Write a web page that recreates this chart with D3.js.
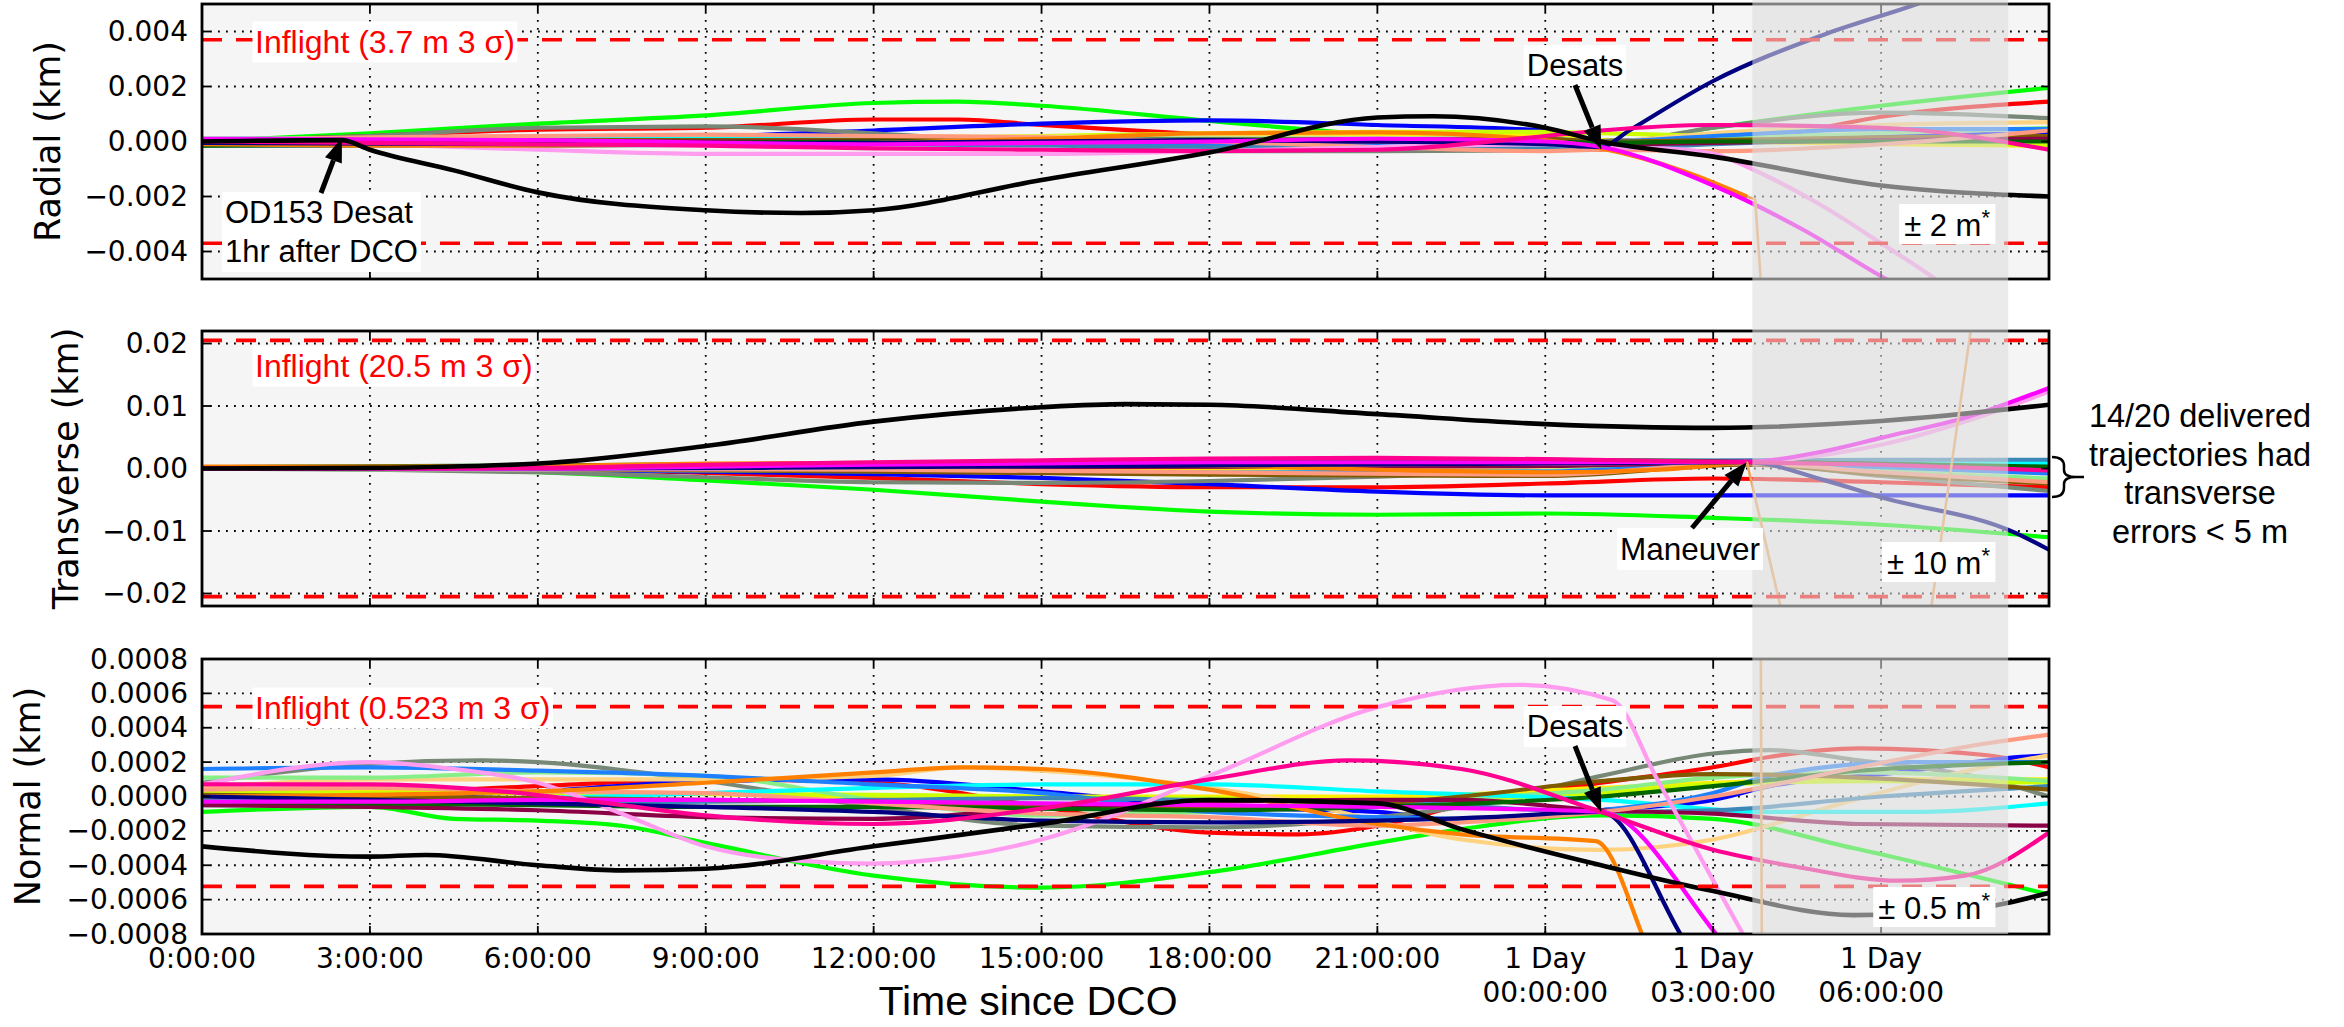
<!DOCTYPE html>
<html>
<head>
<meta charset="utf-8">
<script src="https://cdn.jsdelivr.net/npm/d3@7"></script>
<style>
  body { margin: 0; background: #fff; }
  svg { display: block; }
</style>
</head>
<body>
<script>
// values are metres (plotted as km on the axes) against hours since DCO

var seriesNames = ['lime', 'red', 'blue', 'graygreen', 'yellow', 'greenyellow', 'lightorange', 'lightgreen',
  'cyan', 'dodger', 'steelblue', 'brown', 'maroon', 'darkgreen', 'salmon', 'violet', 'orange', 'navy',
  'magenta', 'deeppink', 'black', 'sandy'];

var seriesColors = ['#00ff00', '#ff0000', '#0000ff', '#778877', '#ffee00', '#ccff00', '#ffd27f', '#88ee88',
  '#00ffff', '#1e80ff', '#3b88b8', '#7f5a00', '#8b0045', '#006400', '#ff9a80', '#ff9cf0', '#ff8000', '#000080',
  '#ff00ff', '#ff0090', '#000000', '#f0a860'];

var radialLines = [
  [[0,0],[3,0.3],[6,0.65],[9,0.95],[12,1.4],[13.5,1.45],[15,1.3],[18,0.75],[21,0.25],[24,0.05],[25,-0.1],[27,0.5],[30,1.3],[33,1.95]],
  [[0,0],[3,0.2],[6,0.43],[9,0.5],[12,0.8],[13.5,0.8],[15,0.6],[18,0.25],[21,0.05],[24,-0.05],[25,-0.3],[27,0.1],[28.5,0.35],[30,0.9],[33,1.45]],
  [[0,0],[3,0.05],[6,0.1],[9,0.18],[12,0.4],[15,0.65],[18,0.77],[21,0.6],[24,0.4],[25,0.05],[27,0.1],[30,0.2],[33,0.3]],
  [[0,0],[3,0.2],[6,0.5],[9,0.55],[12,0.3],[15,-0.1],[18,-0.35],[21,-0.35],[23,-0.33],[25,-0.15],[27,0.5],[30,1.05],[33,0.85]],
  [[0,0],[6,0],[12,0.05],[15,0.1],[18,0.2],[21,0.25],[24,0.2],[25,0.05],[27,0],[30,-0.1],[33,-0.15]],
  [[0,0.05],[9,0.05],[12,0.1],[15,0.2],[18,0.3],[21,0.35],[24,0.35],[25,0.3],[27,0.2],[30,0],[33,-0.15]],
  [[0,0.1],[6,0.15],[12,0.2],[18,0.15],[24,0.1],[25,0],[27,0.3],[30,0.6],[33,0.7]],
  [[0,0.1],[3,0.1],[6,0.15],[9,0.1],[12,0.05],[15,0],[21,0],[24,-0.05],[25,-0.1],[27,0.1],[30,0.3],[33,0.5]],
  [[0,0.1],[12,0.1],[24,0.1],[25,0],[30,0.05],[33,0.1]],
  [[0,-0.1],[3,-0.1],[6,-0.05],[9,0],[12,-0.05],[15,-0.1],[18,-0.15],[21,-0.05],[24,0.05],[25,0],[27,0.2],[30,0.45],[33,0.45]],
  [[0,-0.15],[6,-0.15],[12,-0.1],[18,-0.2],[24,-0.25],[25,-0.25],[27,-0.1],[30,0.1],[33,0.2]],
  [[0,0.05],[12,0.05],[24,0.1],[25,0],[27,0.05],[30,0.15],[33,0.2]],
  [[0,0],[12,0],[24,0],[25,-0.1],[27,-0.05],[30,0.05],[33,0.1]],
  [[0,-0.15],[6,-0.1],[12,0],[18,0.05],[24,0],[25,-0.05],[27,0],[33,0]],
  [[0,0.05],[3,0.15],[6,0.2],[9,0.25],[12,0.2],[15,0.15],[18,0],[21,-0.2],[24,-0.35],[25,-0.3],[27,-0.35],[30,-0.1],[33,0.4]],
  [[0,0],[3,-0.1],[6,-0.3],[9,-0.45],[15,-0.45],[18,-0.35],[21,-0.2],[24,-0.1],[25,-0.2],[26.5,-0.3],[27,-0.45],[28,-1.3],[29,-2.4],[30,-3.7],[30.9,-4.9],[31.5,-5.8]],
  [[0,-0.1],[3,-0.15],[6,-0.15],[9,-0.1],[12,-0.05],[15,0.1],[18,0.3],[21,0.33],[24,0.04],[25,-0.25],[26.5,-1.1],[27.6,-2.0]],
  [[0,-0.05],[6,-0.1],[12,-0.05],[18,0.05],[21,0],[24,-0.1],[25,-0.2],[25.5,0.4],[27,2.2],[29,3.9],[30.5,4.9],[31.5,5.6]],
  [[0,0.1],[6,0.05],[12,-0.1],[18,0],[21,0.1],[24,0],[25,-0.2],[27,-1.6],[28.6,-3.2],[30,-4.9],[31,-6]],
  [[0,0],[3,-0.05],[6,-0.1],[9,-0.15],[12,-0.25],[15,-0.3],[18,-0.35],[21,-0.3],[24,0.2],[25,0.4],[27,0.6],[30,0.5],[33,-0.3]],
  [[0,0],[2.5,0.05],[3,-0.3],[4.5,-1.05],[6,-1.85],[9,-2.5],[10.7,-2.6],[12,-2.5],[15,-1.4],[18,-0.4],[21,0.87],[22,0.92],[24,0.5],[25,0],[27,-0.55],[30,-1.6],[33,-2.0]],
  [[27.6,-2.0],[27.75,-2.1],[27.95,-8]]
];

var transverseLines = [
  [[0,0],[3,-0.1],[6,-0.6],[9,-1.9],[12,-3.4],[15,-5.3],[18,-6.9],[21,-7.4],[24,-7.2],[27,-7.9],[30,-9.0],[33,-11.0]],
  [[0,0],[3,0],[6,-0.1],[9,-0.7],[12,-1.5],[15,-2.5],[18,-3.0],[21,-3.0],[24,-2.4],[27,-1.6],[30,-2.2],[33,-3.0]],
  [[0,0],[3,0],[6,-0.2],[9,-0.5],[12,-0.9],[15,-1.5],[18,-2.5],[21,-3.7],[24,-4.3],[27,-4.3],[30,-4.3],[33,-4.3]],
  [[0,0],[3,-0.2],[6,-0.6],[9,-1.4],[12,-2.2],[15,-2.3],[18,-2.0],[21,-1.3],[24,-0.4],[27.6,0.8],[30,-1.2],[33,-3.6]],
  [[0,0],[12,0],[24,-0.1],[27.6,0.9],[30,0.4],[33,-0.3]],
  [[0,0],[6,0],[12,0.2],[18,0.3],[24,0],[27.6,0.9],[30,0.2],[33,-0.7]],
  [[0,0],[12,0.5],[24,0.2],[27.6,1.0],[30,0.4],[33,-0.5]],
  [[0,0],[6,-0.2],[12,-0.4],[18,-0.6],[24,-0.4],[27.6,0.9],[30,-0.4],[33,-1.6]],
  [[0,0],[12,0.3],[24,0.6],[27.6,1.0],[33,0.9]],
  [[0,0],[6,-0.1],[12,-0.5],[18,-0.7],[24,-0.5],[27.6,0.8],[30,0.2],[33,-0.8]],
  [[0,0],[6,0.1],[12,0.4],[18,0.7],[24,1.2],[27.6,1.3],[30,1.4],[33,1.4]],
  [[0,0],[6,-0.1],[12,-0.5],[18,-1.0],[24,-1.2],[27.6,0.6],[30,-1.0],[33,-2.4]],
  [[0,0],[12,0.2],[24,0.4],[27.6,1.0],[33,0]],
  [[0,0.2],[12,0.8],[24,1.4],[27.6,1.1],[33,0.3]],
  [[0,0],[6,-0.1],[12,-0.2],[18,-0.6],[24,-1.0],[27.6,0.8],[30,-0.6],[33,-2.2]],
  [[0,0],[6,-0.1],[9,0],[12,0.3],[18,0.6],[24,0.8],[27.6,1.0],[29,2.2],[30,3.8],[31.6,7.8],[33,12.3]],
  [[0,0.3],[3,0.3],[6,0.4],[9,0.8],[12,0.9],[15,0.8],[18,0.5],[21,-0.2],[24,-0.6],[26,-0.2],[27.6,1.1]],
  [[0,0],[6,0],[12,0.2],[18,0.5],[24,0.8],[27.6,1.0],[29,-1.9],[30,-4.6],[32.4,-10.3],[33,-13]],
  [[0,0],[6,0],[9,0.3],[12,0.6],[15,0.8],[18,1.0],[24,1.0],[27.6,1.1],[29,2.8],[30,4.9],[31.6,8.4],[33,12.9]],
  [[0,0],[3,0],[6,0.1],[9,0.6],[12,1.0],[15,1.3],[18,1.6],[21,1.7],[24,1.5],[27.6,1.0],[30,0.6],[33,-0.3]],
  [[0,0],[3,0.1],[6,0.8],[9,3.6],[12,7.5],[15,9.8],[16.5,10.3],[18,10.2],[21,8.7],[24,7.1],[27,6.5],[30,7.6],[33,10.2]],
  [[27.6,1.1],[28.2,-22],[29.5,-80],[30.9,-22],[31.6,22],[32,50]]
];

var normalLines = [
  [[0,-0.09],[3,-0.06],[4.5,-0.13],[6,-0.14],[7.5,-0.17],[9,-0.27],[12,-0.46],[15,-0.53],[18,-0.44],[21,-0.27],[22.5,-0.19],[25,-0.11],[27,-0.13],[29.5,-0.3],[33,-0.57]],
  [[0,0],[3,0.02],[6,0.06],[9,0.1],[12,0.08],[15,-0.06],[18,-0.21],[19.6,-0.22],[21,-0.17],[22.5,-0.05],[25,0.08],[27,0.17],[28,0.23],[29.6,0.28],[31.9,0.24],[33,0.17]],
  [[0,-0.01],[3,0],[6,0.03],[9,0.09],[12,0.1],[15,0.03],[18,-0.06],[21,-0.09],[22.5,-0.14],[25,-0.08],[27,-0.02],[28,0.06],[30.3,0.14],[32.5,0.23],[33,0.24]],
  [[0,0.08],[3,0.19],[5,0.21],[6,0.2],[9,0.09],[12,-0.06],[15,-0.17],[18,-0.18],[21,-0.12],[22.5,-0.06],[25,0.12],[27,0.25],[28,0.27],[29.6,0.21],[31.9,0.1],[33,0]],
  [[0,0.03],[6,0.03],[12,0],[18,0],[21,0],[25,0.05],[27,0.08],[30,0.1],[33,0.1]],
  [[0,0.02],[6,0.02],[12,0.01],[15,0],[18,-0.01],[21,-0.02],[25,0.02],[27,0.07],[30,0.09],[33,0.08]],
  [[0,0.05],[3,0.1],[6,0.1],[9,0.1],[12,0.12],[13.6,0.17],[15,0.15],[18,0.05],[19.5,-0.03],[22.5,-0.25],[25,-0.31],[27,-0.25],[29.3,-0.04],[31.4,0.14],[33,0.24]],
  [[0,0.11],[3,0.11],[6,0.14],[9,0.12],[12,-0.02],[15,-0.11],[18,-0.09],[21,-0.03],[22.5,-0.01],[25,0.04],[27,0.11],[29.6,0.14],[33,0.09]],
  [[0,-0.02],[3,-0.02],[6,-0.01],[9,0.02],[12,0.05],[15,0.07],[18,0.07],[21,0.03],[25,-0.02],[28,-0.09],[30.5,-0.09],[33,-0.04]],
  [[0,0.16],[3,0.17],[6,0.15],[9,0.12],[12,0.07],[15,0.02],[18,-0.09],[21,-0.12],[22.5,-0.13],[25,-0.08],[27,0.02],[28,0.12],[30.5,0.2],[33,0.2]],
  [[0,-0.05],[3,-0.05],[6,-0.04],[9,-0.03],[12,-0.02],[15,-0.01],[18,-0.02],[21,-0.03],[25,-0.09],[27,-0.08],[30,0],[33,0.06]],
  [[0,0.01],[3,0],[6,-0.01],[9,-0.02],[12,-0.03],[15,-0.06],[18,-0.06],[21,-0.04],[22.5,0],[25,0.09],[27,0.13],[29.6,0.11],[33,0.04]],
  [[0,-0.05],[3,-0.06],[6,-0.08],[9,-0.12],[12,-0.13],[15,-0.07],[18,-0.03],[21,-0.02],[22.5,-0.02],[25,-0.08],[27,-0.1],[29.6,-0.16],[33,-0.17]],
  [[0,-0.03],[3,-0.04],[6,-0.05],[9,-0.06],[12,-0.06],[15,-0.07],[18,-0.08],[21,-0.06],[25,0],[27,0.06],[29.6,0.15],[33,0.2]],
  [[0,0.04],[3,0.05],[6,0.03],[9,0.02],[12,-0.04],[15,-0.1],[18,-0.12],[21,-0.17],[22.5,-0.15],[25,-0.09],[27,0],[29.6,0.17],[31.9,0.31],[33,0.36]],
  [[0,0.07],[3,0.2],[4.5,0.16],[6,0.08],[7.5,-0.1],[9,-0.29],[10.5,-0.37],[12,-0.39],[13.5,-0.35],[15,-0.25],[18,0.12],[21,0.52],[23.5,0.65],[25.2,0.56],[26,0.1],[27.7,-0.9]],
  [[0,0],[3,0.01],[6,0.03],[9,0.08],[12,0.14],[13.6,0.17],[15,0.16],[18,0.04],[21,-0.16],[22.5,-0.22],[24.9,-0.26],[25.75,-0.82],[25.9,-0.95]],
  [[0,0],[3,-0.02],[6,-0.04],[9,-0.06],[12,-0.09],[15,-0.14],[18,-0.15],[21,-0.14],[23,-0.12],[25,-0.09],[26.45,-0.82],[26.6,-0.9]],
  [[0,-0.03],[3,-0.03],[6,-0.02],[9,-0.02],[12,-0.03],[15,-0.04],[18,-0.05],[21,-0.06],[23,-0.07],[25,-0.09],[27.1,-0.82],[27.3,-0.9]],
  [[0,0.07],[3,0.07],[5,0.04],[7,-0.03],[9,-0.11],[12,-0.16],[15,-0.07],[18,0.1],[20.5,0.21],[22.5,0.16],[25,-0.09],[27,-0.31],[28.5,-0.41],[30.3,-0.49],[31.5,-0.46],[33,-0.21]],
  [[0,-0.29],[3,-0.35],[4,-0.34],[6,-0.4],[7.5,-0.43],[9,-0.42],[12,-0.29],[15,-0.16],[18,-0.02],[21,-0.04],[22.5,-0.19],[25,-0.4],[27,-0.55],[29.5,-0.69],[31.5,-0.66],[33,-0.56]],
  [[27.85,1.0],[27.87,-1.0]]
];

var radialTicks = [-4, -2, 0, 2, 4];
var transverseTicks = [-20, -10, 0, 10, 20];
var normalTicks = [-0.8, -0.6, -0.4, -0.2, 0, 0.2, 0.4, 0.6, 0.8];
var hourTicks = [0, 3, 6, 9, 12, 15, 18, 21, 24, 27, 30];
var hourTickLabels = ['0:00:00', '3:00:00', '6:00:00', '9:00:00', '12:00:00', '15:00:00', '18:00:00',
  '21:00:00', '1 Day\n00:00:00', '1 Day\n03:00:00', '1 Day\n06:00:00'];
var inflightSigma = [3.7, 20.5, 0.523];
var shadedHours = [27.7, 32.27];

// ---- layout ----
var svgWidth = 2344, svgHeight = 1027;
var plotLeft = 202, plotRight = 2049, panelHeight = 275;
var tickFont = 'DejaVu Sans', textFont = 'Liberation Sans, Arial, sans-serif';

var svg = d3.select('body').append('svg')
  .attr('width', svgWidth)
  .attr('height', svgHeight);

var x = d3.scaleLinear().domain([0, 33]).range([plotLeft, plotRight]);

var panels = [
  {lines: radialLines, ticks: radialTicks, half: 5, top: 4, digits: 3, label: 'Radial (km)', labelX: 48,
    sigma: inflightSigma[0], sigmaText: 'Inflight (3.7 m 3 σ)', sigmaBase: 53},
  {lines: transverseLines, ticks: transverseTicks, half: 22, top: 331, digits: 2, label: 'Transverse (km)', labelX: 66,
    sigma: inflightSigma[1], sigmaText: 'Inflight (20.5 m 3 σ)', sigmaBase: 377},
  {lines: normalLines, ticks: normalTicks, half: 0.8, top: 659, digits: 4, label: 'Normal (km)', labelX: 28,
    sigma: inflightSigma[2], sigmaText: 'Inflight (0.523 m 3 σ)', sigmaBase: 719}
];

function kmLabel(m, digits) {
  var s = (m / 1000).toFixed(digits);
  if (parseFloat(s) === 0) s = s.replace('-', '');
  return s.replace('-', '\u2212');
}

var defs = svg.append('defs');

panels.forEach(function(p, i) {
  var top = p.top, bottom = p.top + panelHeight;
  var y = d3.scaleLinear().domain([-p.half, p.half]).range([bottom, top]);
  p.y = y;

  defs.append('clipPath').attr('id', 'clip' + i)
    .append('rect')
    .attr('x', plotLeft).attr('y', top)
    .attr('width', plotRight - plotLeft).attr('height', panelHeight);

  var g = svg.append('g');

  g.append('rect')
    .attr('x', plotLeft).attr('y', top)
    .attr('width', plotRight - plotLeft).attr('height', panelHeight)
    .attr('fill', '#f5f5f5');

  // dotted grid
  g.selectAll('.vgrid').data(hourTicks.slice(1)).enter().append('line')
    .attr('x1', d => x(d)).attr('x2', d => x(d))
    .attr('y1', top).attr('y2', bottom)
    .attr('stroke', '#000').attr('stroke-width', 1.8)
    .attr('stroke-dasharray', '1.8,6.2');
  g.selectAll('.hgrid').data(p.ticks).enter().append('line')
    .attr('x1', plotLeft).attr('x2', plotRight)
    .attr('y1', d => y(d)).attr('y2', d => y(d))
    .attr('stroke', '#000').attr('stroke-width', 1.8)
    .attr('stroke-dasharray', '1.8,6.2');

  // trajectories
  var lineGen = d3.line()
    .x(d => x(d[0]))
    .y(d => y(d[1]))
    .curve(d3.curveMonotoneX);
  var straight = d3.line()
    .x(d => x(d[0]))
    .y(d => y(d[1]));

  var lg = g.append('g').attr('clip-path', 'url(#clip' + i + ')');
  p.lines.forEach(function(pts, k) {
    var name = seriesNames[k];
    lg.append('path')
      .attr('d', name === 'sandy' ? straight(pts) : lineGen(pts))
      .attr('fill', 'none')
      .attr('stroke', seriesColors[k])
      .attr('stroke-width', name === 'sandy' ? 2.6 : (name === 'black' ? 4.6 : 4.2))
      .attr('stroke-linejoin', 'round');
  });

  // inflight 3 sigma
  g.selectAll('.sigma').data([p.sigma, -p.sigma]).enter().append('line')
    .attr('x1', plotLeft).attr('x2', plotRight)
    .attr('y1', d => y(d)).attr('y2', d => y(d))
    .attr('stroke', '#ff0000').attr('stroke-width', 3.6)
    .attr('stroke-dasharray', '20,14');

  // spine
  g.append('rect')
    .attr('x', plotLeft).attr('y', top)
    .attr('width', plotRight - plotLeft).attr('height', panelHeight)
    .attr('fill', 'none').attr('stroke', '#000').attr('stroke-width', 2.8);

  // inward ticks on all four sides
  hourTicks.forEach(function(t) {
    g.append('line').attr('x1', x(t)).attr('x2', x(t)).attr('y1', bottom).attr('y2', bottom - 8)
      .attr('stroke', '#000').attr('stroke-width', 1.8);
    g.append('line').attr('x1', x(t)).attr('x2', x(t)).attr('y1', top).attr('y2', top + 8)
      .attr('stroke', '#000').attr('stroke-width', 1.8);
  });
  p.ticks.forEach(function(v) {
    g.append('line').attr('x1', plotLeft).attr('x2', plotLeft + 8).attr('y1', y(v)).attr('y2', y(v))
      .attr('stroke', '#000').attr('stroke-width', 1.8);
    g.append('line').attr('x1', plotRight).attr('x2', plotRight - 8).attr('y1', y(v)).attr('y2', y(v))
      .attr('stroke', '#000').attr('stroke-width', 1.8);
  });

  // y tick labels
  g.selectAll('.ylab').data(p.ticks).enter().append('text')
    .attr('x', plotLeft - 14)
    .attr('y', d => y(d))
    .attr('text-anchor', 'end')
    .attr('dominant-baseline', 'central')
    .attr('font-family', tickFont)
    .attr('font-size', 28)
    .text(d => kmLabel(d, p.digits));

  // y axis title
  var cy = (top + bottom) / 2;
  g.append('text')
    .attr('transform', 'translate(' + p.labelX + ',' + cy + ') rotate(-90)')
    .attr('text-anchor', 'middle')
    .attr('dominant-baseline', 'central')
    .attr('font-family', tickFont)
    .attr('font-size', 35)
    .text(p.label);
});

// x tick labels under the bottom panel
var xl = svg.append('g');
hourTicks.forEach(function(t, k) {
  var parts = hourTickLabels[k].split('\n');
  var txt = xl.append('text')
    .attr('x', x(t))
    .attr('y', 968)
    .attr('text-anchor', 'middle')
    .attr('font-family', tickFont)
    .attr('font-size', 28);
  parts.forEach(function(s, j) {
    txt.append('tspan').attr('x', x(t)).attr('dy', j === 0 ? 0 : 34).text(s);
  });
});

svg.append('text')
  .attr('x', 1028).attr('y', 1015)
  .attr('text-anchor', 'middle')
  .attr('font-family', textFont)
  .attr('font-size', 41)
  .text('Time since DCO');

// shaded window laid over the three panels
svg.append('rect')
  .attr('x', x(shadedHours[0]))
  .attr('y', 0)
  .attr('width', x(shadedHours[1]) - x(shadedHours[0]))
  .attr('height', panels[2].top + panelHeight)
  .attr('fill', '#dcdcdc')
  .attr('opacity', 0.58);

// ---- annotations ----
function boxedText(lines, px, py, anchor, color, pad, size) {
  var g = svg.append('g');
  var txt = g.append('text')
    .attr('x', px).attr('y', py)
    .attr('text-anchor', anchor)
    .attr('font-family', textFont)
    .attr('font-size', size)
    .attr('fill', color);
  lines.forEach(function(s, j) {
    txt.append('tspan').attr('x', px).attr('dy', j === 0 ? 0 : 39).text(s);
  });
  var bb = txt.node().getBBox();
  g.insert('rect', 'text')
    .attr('x', bb.x - pad).attr('y', bb.y - pad)
    .attr('width', bb.width + 2 * pad).attr('height', bb.height + 2 * pad)
    .attr('fill', '#fff');
  return txt;
}

function starText(label, px, py) {
  var g = svg.append('g');
  var txt = g.append('text')
    .attr('x', px).attr('y', py)
    .attr('text-anchor', 'end')
    .attr('font-family', textFont)
    .attr('font-size', 31);
  txt.append('tspan').text(label);
  txt.append('tspan').attr('dy', -11).attr('font-size', 22).text('*');
  var bb = txt.node().getBBox();
  g.insert('rect', 'text')
    .attr('x', bb.x - 5).attr('y', py - 32)
    .attr('width', bb.width + 10).attr('height', 40)
    .attr('fill', '#fff');
}

function arrow(x1, y1, x2, y2) {
  var ang = Math.atan2(y2 - y1, x2 - x1);
  var headLen = 24, headW = 9;
  var bx = x2 - headLen * Math.cos(ang), by = y2 - headLen * Math.sin(ang);
  svg.append('line')
    .attr('x1', x1).attr('y1', y1).attr('x2', bx).attr('y2', by)
    .attr('stroke', '#000').attr('stroke-width', 5);
  svg.append('path')
    .attr('d', 'M' + x2 + ',' + y2 +
      'L' + (bx + headW * Math.sin(ang)) + ',' + (by - headW * Math.cos(ang)) +
      'L' + (bx - headW * Math.sin(ang)) + ',' + (by + headW * Math.cos(ang)) + 'Z')
    .attr('fill', '#000');
}

var yR = panels[0].y, yT = panels[1].y, yN = panels[2].y;

panels.forEach(function(p) {
  boxedText([p.sigmaText], 255, p.sigmaBase, 'start', '#ff0000', 2.5, 32);
});

boxedText(['OD153 Desat', '1hr after DCO'], 225, 223, 'start', '#000', 3, 31);
arrow(321, 193, x(2.5), yR(0.13));

boxedText(['Desats'], 1575, 76, 'middle', '#000', 3, 31);
arrow(1575, 85, x(25), yR(-0.3));

boxedText(['Maneuver'], 1690, 560, 'middle', '#000', 3, 31.5);
arrow(1692, 528, x(27.6), yT(1.0));

boxedText(['Desats'], 1575, 737, 'middle', '#000', 3, 31);
arrow(1575, 746, x(25), yN(-0.09));

starText('± 2 m', 1990, 236);
starText('± 10 m', 1990, 574);
starText('± 0.5 m', 1990, 919);

// brace and note for the transverse panel
svg.append('path')
  .attr('d', 'M2052,457 Q2064,457 2064,466 L2064,470 Q2064,477 2076,477 Q2064,477 2064,484 L2064,488 Q2064,497 2052,497 M2076,477 L2084,477')
  .attr('fill', 'none')
  .attr('stroke', '#000')
  .attr('stroke-width', 2.5);

var noteLines = ['14/20 delivered', 'trajectories had', 'transverse', 'errors < 5 m'];
svg.append('g').selectAll('text').data(noteLines).enter().append('text')
  .attr('x', 2200)
  .attr('y', (d, j) => 427 + j * 38.5)
  .attr('text-anchor', 'middle')
  .attr('font-family', textFont)
  .attr('font-size', 32.5)
  .text(d => d);
</script>
</body>
</html>
